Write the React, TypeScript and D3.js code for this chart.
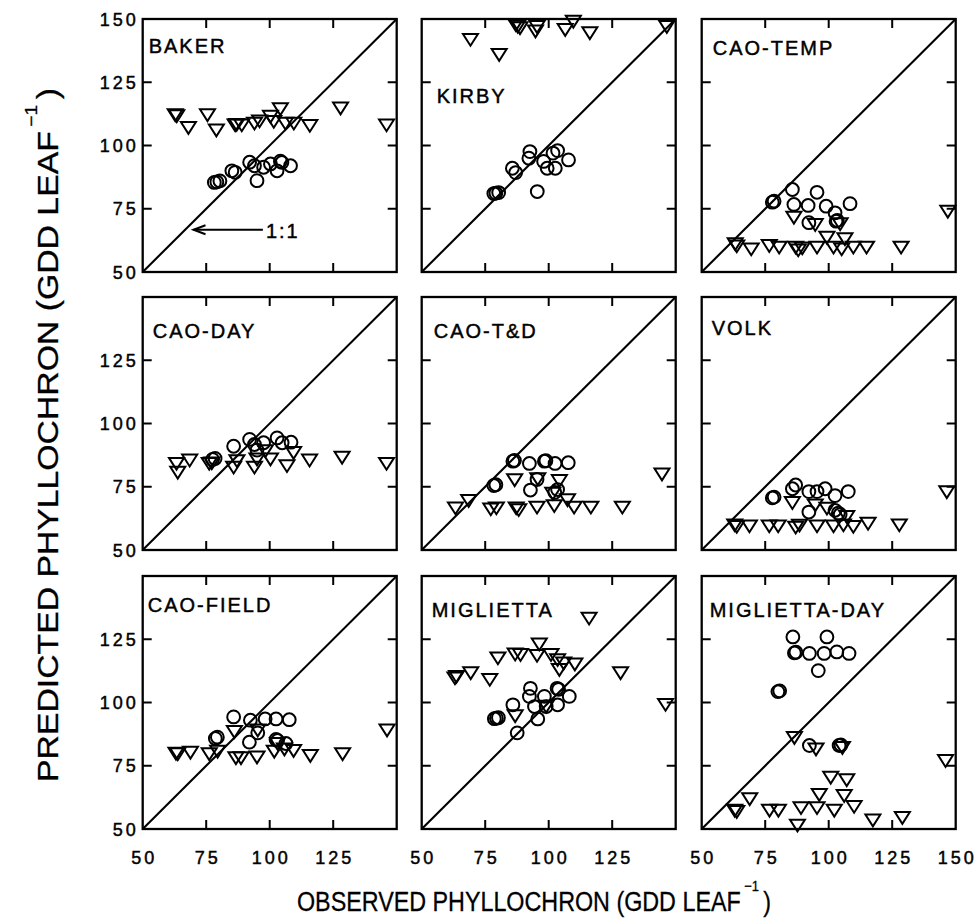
import React from 'react';
import * as d3 from 'd3';

// ---------- DATA (observed, predicted) ----------
const panelNames = ['BAKER', 'KIRBY', 'CAO-TEMP', 'CAO-DAY', 'CAO-T&D', 'VOLK', 'CAO-FIELD', 'MIGLIETTA', 'MIGLIETTA-DAY'];

const bakerCircles = [[78.2,85.4],[79.2,85.6],[80.4,86.0],[85.1,90],[86.4,89.4],[92.1,93.4],[94,92],[95,86.1],[97.6,91.4],[100.3,92.7],[102.9,90],[104.2,93.8],[104.8,93.3],[108.2,92]];
const bakerTriangles = [[62.8,112.6],[63.4,112.2],[68,107.6],[75.5,112.6],[79,106.6],[86.4,108.6],[87,108.8],[89,108.6],[94,109.3],[96,110.2],[100.3,112],[101.6,110],[104.2,115],[106.2,109.3],[109.5,109.3],[115.8,108.4],[127.9,115.3],[146,108.6]];

const kirbyCircles = [[79.2,81.2],[78.4,81],[80.3,81.4],[85.7,91],[87,89.3],[92.6,97.6],[92.2,95],[95.5,81.8],[98,93.7],[99.4,91],[101.7,97],[103.5,98],[102.6,91],[107.8,94.3]];
const kirbyTriangles = [[69.2,142.4],[80.5,136.4],[87,148.3],[87.8,147.6],[88.7,147],[94.8,145.7],[95.4,147.5],[106.5,146.3],[109.7,149.6],[116.2,145],[146.5,147.5]];

const caoTempCircles = [[78.5,78],[77.8,77.6],[85.7,82.6],[86.3,76.7],[91.9,76.3],[95.4,81.5],[99,76],[92.2,69.5],[102.5,73.4],[102.9,70.1],[103.4,70.4],[108.4,77]];
const caoTempTriangles = [[63.2,61.6],[63.8,60.8],[69.5,59.6],[76.6,60.9],[80.5,60.3],[87,60.3],[88,59.2],[89.6,60],[95.4,60.3],[101.9,60.3],[105.1,59.6],[99.3,64.2],[106.4,63.6],[109.7,60.3],[114.9,60.3],[128.5,60.3],[86.3,72.1],[94.7,69.2],[104.5,69.5],[146.9,74.5]];

const caoDayCircles = [[77.5,85.8],[78.5,86.2],[85.8,91],[92.1,93.7],[94,91.7],[97.6,92.4],[102.9,94.3],[104.9,92.4],[108.4,92.6],[95,89.5]];
const caoDayTriangles = [[63.3,84.7],[63.8,81.2],[68.5,86],[76.2,84.7],[77.2,84.9],[85.8,83.2],[87.1,85.8],[94,83.2],[95,86.4],[100.3,86.4],[106.8,83.8],[109.4,89],[115.7,86],[128.5,87.1],[146,84.7],[98.3,89.7]];

const caoTDCircles = [[78.4,75.5],[79.2,75.8],[85.9,85.1],[86.5,85.4],[92.4,84.2],[98.3,85.1],[98.9,85.3],[102.5,84.2],[107.7,84.5],[92.8,73.7],[95.4,77.9],[103.5,73.9],[102.4,72.8]];
const caoTDTriangles = [[63.3,67.1],[68.5,70],[77.2,66.7],[79.4,67.1],[87.2,67.1],[88.2,66.4],[95.4,67.4],[102.2,68],[107.4,70.3],[110,67.4],[116.6,67.4],[129,67.4],[86.6,78.2],[95.7,78.6],[104.2,77.9],[101.6,72.9],[144.6,80.5]];

const volkCircles = [[78.5,70.9],[77.8,70.6],[85.7,74.2],[87,75.7],[92.2,73.1],[95.4,73.1],[98.6,74.2],[107.7,73.1],[102.5,71.5],[92.2,65],[102.5,65.7],[104.5,64],[103.8,64.6]];
const volkTriangles = [[63,60.4],[63.8,59.8],[68.8,60],[76.6,60],[80.1,60],[87,59.5],[88.5,60.3],[95.4,60],[101.9,60],[105.8,60.4],[109.7,59.8],[115.5,61],[127.8,60.4],[85.7,69.2],[94.7,68.3],[99.3,67],[107.1,63.7],[146.5,73.5]];

const caoFieldCircles = [[78.6,85.8],[79.4,86.3],[85.8,94.3],[92.4,93],[98.2,93.5],[102.5,93.5],[107.7,93.2],[92,84.3],[95.3,88],[102.5,85.4],[103.1,85],[106.4,83.8]];
const caoFieldTriangles = [[63.1,80.4],[63.8,80.2],[68.8,80.8],[76.2,80.2],[79.5,81.2],[86.7,78.6],[88.7,78.6],[95,78.9],[101.8,81.2],[105.8,82.1],[109.4,81.5],[116,79.5],[128.7,80.2],[146.2,89.6],[86.1,89],[95.3,89.6],[103.1,84.3]];

const miglCircles = [[79.4,93.8],[78.6,93.6],[80.2,94],[85.9,99.1],[87.6,88],[92.8,105.6],[92.4,102.4],[95.7,93.5],[98.3,102.4],[99,98.4],[103.3,105.6],[103.9,105.2],[103.5,99.1],[108.1,102.4],[94.4,98.4]];
const miglTriangles = [[63.1,110.2],[63.7,110.8],[69.3,112.2],[76.8,109.6],[80,118.1],[86.8,119.6],[88.9,119.4],[95.4,119.1],[96.3,123.6],[100.9,119.4],[103.5,117.4],[104.2,113.5],[105.9,116.1],[110.3,115.7],[115.9,133.8],[128.3,112.2],[146,99.7],[86.8,95.2],[99,99]];

const miglDayCircles = [[85.9,125.9],[99.3,125.9],[86.5,119.6],[87.1,119.9],[92.4,119.4],[98.2,119.4],[103.2,120],[108,119.4],[95.9,112.6],[80,104.3],[80.7,104.6],[92.4,83],[104.1,83],[104.8,83.2]];
const miglDayTriangles = [[63,57.9],[63.8,57.4],[68.9,62.4],[76.7,57.9],[80.2,57.9],[87.7,52],[89.1,58.9],[95.4,58.9],[96.3,64.1],[100.8,70.9],[102.2,57.9],[106.1,63.7],[107.1,69.9],[110,59.4],[117.4,54],[129,55],[146,77.5],[86.5,86.6],[95,82.1],[105.4,82.7]];

const circleSeries = [bakerCircles, kirbyCircles, caoTempCircles, caoDayCircles, caoTDCircles, volkCircles, caoFieldCircles, miglCircles, miglDayCircles];
const triangleSeries = [bakerTriangles, kirbyTriangles, caoTempTriangles, caoDayTriangles, caoTDTriangles, volkTriangles, caoFieldTriangles, miglTriangles, miglDayTriangles];

const domain = [50, 150];
const yTickLabelsTopRow = [50, 75, 100, 125, 150];
const yTickLabelsOtherRows = [50, 75, 100, 125];
const xTickLabelsFirstCols = [50, 75, 100, 125];
const xTickLabelsLastCol = [50, 75, 100, 125, 150];
const innerTicks = [75, 100, 125];
const oneToOneLabel = '1:1';
const oneToOneArrow = { tipX: 70, textX: 98.5, y: 66.7 };
const xTitle = 'OBSERVED PHYLLOCHRON (GDD LEAF';
const yTitle = 'PREDICTED PHYLLOCHRON (GDD LEAF';
const superscript = '−1';
const closeParen = ')';

// ---------- LAYOUT ----------
const COL_LEFT = [142.7, 421.7, 701.7];
const ROW_TOP = [19, 297, 576];
const PW = 254;
const PH = 253;
const labelOffsets = [
  [6, 34], [15, 84], [11, 36],
  [10, 41], [12, 41], [10, 38],
  [5, 36], [10, 41], [8, 41],
];
const FONT = '"Liberation Sans", Arial, Helvetica, sans-serif';
const TXT = { fill: '#000', stroke: '#000', strokeWidth: 0.45 };

const triPath = 'M-7.5,-4.3L7.5,-4.3L0,7.5Z';

function Panel({ idx }: { idx: number }) {
  const col = idx % 3;
  const row = Math.floor(idx / 3);
  const left = COL_LEFT[col];
  const top = ROW_TOP[row];
  const x = d3.scaleLinear().domain(domain).range([left, left + PW]);
  const y = d3.scaleLinear().domain(domain).range([top + PH, top]);
  const tl = 9;
  const yLabels = col === 0 ? (row === 0 ? yTickLabelsTopRow : yTickLabelsOtherRows) : [];
  const xLabels = row === 2 ? (col === 2 ? xTickLabelsLastCol : xTickLabelsFirstCols) : [];
  const diag = d3.line<number>().x((d) => x(d)).y((d) => y(d));
  return (
    <g>
      <rect x={left} y={top} width={PW} height={PH} fill="none" stroke="#000" strokeWidth={2.3} />
      {innerTicks.map((t) => (
        <g key={t} stroke="#000" strokeWidth={2}>
          <line x1={x(t)} x2={x(t)} y1={top + PH} y2={top + PH - tl} />
          <line x1={x(t)} x2={x(t)} y1={top} y2={top + tl} />
          <line x1={left} x2={left + tl} y1={y(t)} y2={y(t)} />
          <line x1={left + PW} x2={left + PW - tl} y1={y(t)} y2={y(t)} />
        </g>
      ))}
      <path d={diag(domain) || ''} stroke="#000" strokeWidth={2.1} fill="none" />
      {yLabels.map((t) => (
        <text key={'y' + t} x={left - 4} y={y(t) + 6.5} textAnchor="end" fontSize={18} letterSpacing={3} fontFamily={FONT} {...TXT}>
          {t}
        </text>
      ))}
      {xLabels.map((t) => (
        <text key={'x' + t} x={x(t) + 1.5} y={864} textAnchor="middle" fontSize={18} letterSpacing={3} fontFamily={FONT} {...TXT}>
          {t}
        </text>
      ))}
      <text x={left + labelOffsets[idx][0]} y={top + labelOffsets[idx][1]} fontSize={20} letterSpacing={2} fontFamily={FONT} {...TXT}>
        {panelNames[idx]}
      </text>
      {circleSeries[idx].map((d, i) => (
        <circle key={'c' + i} cx={x(d[0])} cy={y(d[1])} r={6.4} fill="none" stroke="#000" strokeWidth={2} />
      ))}
      {triangleSeries[idx].map((d, i) => (
        <path key={'t' + i} d={triPath} transform={`translate(${x(d[0])},${y(d[1])})`} fill="none" stroke="#000" strokeWidth={2} strokeLinejoin="miter" />
      ))}
      {idx === 0 && (
        <g>
          <line x1={x(oneToOneArrow.tipX)} x2={x(oneToOneArrow.textX) - 3} y1={y(oneToOneArrow.y)} y2={y(oneToOneArrow.y)} stroke="#000" strokeWidth={2} />
          <path
            d={`M${x(oneToOneArrow.tipX) + 12},${y(oneToOneArrow.y) - 4.5}L${x(oneToOneArrow.tipX)},${y(oneToOneArrow.y)}L${x(oneToOneArrow.tipX) + 12},${y(oneToOneArrow.y) + 4.5}`}
            stroke="#000" strokeWidth={2} fill="none"
          />
          <text x={x(oneToOneArrow.textX)} y={y(oneToOneArrow.y) + 8} fontSize={20} letterSpacing={2} fontFamily={FONT} {...TXT}>
            {oneToOneLabel}
          </text>
        </g>
      )}
    </g>
  );
}

export default function App() {
  return (
    <svg width={979} height={920} style={{ position: 'absolute', left: 0, top: 0, background: '#fff' }}>
      <rect width={979} height={920} fill="#fff" />
      {panelNames.map((_, i) => (
        <Panel key={i} idx={i} />
      ))}
      {/* x title */}
      <text x={297} y={911} fontSize={27} fontFamily={FONT} textLength={474} lengthAdjust="spacingAndGlyphs" {...TXT} strokeWidth={0.3}>
        {xTitle}
        <tspan dx={4} dy={-20} fontSize={15}>{superscript}</tspan>
        <tspan dx={5} dy={20}>{closeParen}</tspan>
      </text>
      {/* y title */}
      <text transform="translate(58,782) rotate(-90)" x={0} y={0} fontSize={30} fontFamily={FONT} textLength={694} lengthAdjust="spacingAndGlyphs" {...TXT} strokeWidth={0.3}>
        {yTitle}
        <tspan dx={4} dy={-21} fontSize={17}>{superscript}</tspan>
        <tspan dx={5} dy={21}>{closeParen}</tspan>
      </text>
    </svg>
  );
}
